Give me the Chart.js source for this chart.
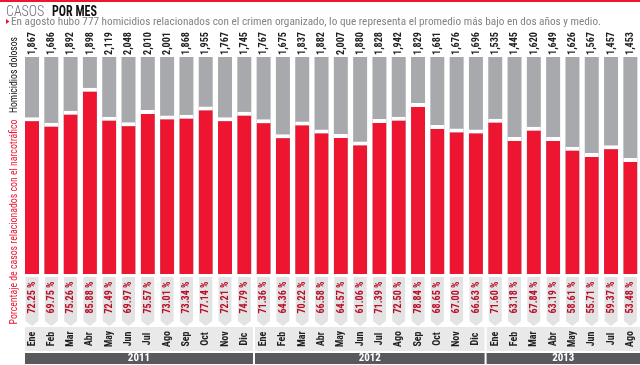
<!DOCTYPE html>
<html>
<head>
<meta charset="utf-8">
<script src="https://cdn.jsdelivr.net/npm/chart.js@4/dist/chart.umd.min.js"></script>
<style>
html,body{margin:0;padding:0;background:#fff;}
canvas{display:block;}
</style>
</head>
<body>
<canvas id="c" width="640" height="365"></canvas>
<script>
const months = ['Ene','Feb','Mar','Abr','May','Jun','Jul','Ago','Sep','Oct','Nov','Dic',
                'Ene','Feb','Mar','Abr','May','Jun','Jul','Ago','Sep','Oct','Nov','Dic',
                'Ene','Feb','Mar','Abr','May','Jun','Jul','Ago'];
const years = ['2011','2012','2013'];
const monthsPerYear = [12,12,8];
const homicidios = [1867,1686,1892,1898,2119,2048,2010,2001,1868,1955,1767,1745,
                    1767,1675,1837,1882,2007,1880,1828,1942,1829,1681,1676,1696,
                    1535,1445,1620,1649,1626,1567,1457,1453];
const porcentaje = [72.25,69.75,75.26,85.88,72.49,69.97,75.57,73.01,73.34,77.14,72.21,74.79,
                    71.36,64.36,70.22,66.58,64.57,61.06,71.39,72.50,78.84,68.65,67.00,66.63,
                    71.60,63.18,67.84,63.19,58.61,55.71,59.37,53.48];
const total = months.map(() => 100);

const FONT = '"Liberation Sans Narrow","Roboto Condensed",Roboto,"Liberation Sans",sans-serif';
const RED = '#ee1531';
const GRAY = '#a7a9ac';

function rotText(ctx, txt, x, y, align, maxW) {
  ctx.save();
  ctx.translate(x, y);
  ctx.rotate(-Math.PI/2);
  ctx.textAlign = align;
  ctx.textBaseline = 'middle';
  ctx.fillText(txt, 0, 0, maxW);
  ctx.restore();
}

const deco = {
  id: 'deco',
  afterDraw(chart) {
    const ctx = chart.ctx;
    const xs = chart.scales.x;
    const meta = chart.getDatasetMeta(0);
    const bw = meta.data[0].width;
    const W = chart.width;
    ctx.save();
    // top line
    ctx.fillStyle = RED;
    ctx.fillRect(0, 0, W, 2);
    // title
    ctx.textBaseline = 'alphabetic';
    ctx.textAlign = 'left';
    ctx.fillStyle = '#6d6e71';
    ctx.font = '300 14px ' + FONT;
    ctx.fillText('CASOS', 6, 16, 44);
    ctx.fillStyle = '#111';
    ctx.font = 'bold 14px ' + FONT;
    ctx.fillText('POR MES', 52, 16, 45);
    // subtitle
    ctx.fillStyle = RED;
    ctx.beginPath();
    ctx.moveTo(6, 19); ctx.lineTo(9.5, 21.5); ctx.lineTo(6, 24); ctx.closePath(); ctx.fill();
    ctx.fillStyle = '#808285';
    ctx.font = '11.3px ' + FONT;
    ctx.fillText('En agosto hubo 777 homicidios relacionados con el crimen organizado, lo que representa el promedio más bajo en dos años y medio.', 11, 25, 590);
    // left titles
    ctx.fillStyle = '#111';
    ctx.font = '11.5px ' + FONT;
    rotText(ctx, 'Homicidios dolosos', 14, 75, 'center', 76);
    ctx.fillStyle = RED;
    rotText(ctx, 'Porcentaje de casos relacionados con el narcotráfico', 14, 222, 'center', 205);

    // per-bar labels
    months.forEach((m, i) => {
      const cx = xs.getPixelForValue(i);
      // top total
      ctx.fillStyle = '#231f20';
      ctx.font = 'bold 11px ' + FONT;
      rotText(ctx, homicidios[i].toLocaleString('en-US'), cx, 55, 'left', 23);
      // tag
      const l = cx - bw/2 + 0.5, r = cx + bw/2 - 0.5;
      ctx.fillStyle = '#e3e3e3';
      ctx.beginPath();
      ctx.moveTo(l, 277); ctx.lineTo(r, 277); ctx.lineTo(r, 321);
      ctx.lineTo(cx, 326); ctx.lineTo(l, 321); ctx.closePath(); ctx.fill();
      ctx.fillStyle = '#b8102a';
      ctx.font = 'bold 11px ' + FONT;
      rotText(ctx, porcentaje[i].toFixed(2) + ' %', cx, 297.5, 'center', 32);
    });

    // month band & year band
    let start = 0;
    const left0 = xs.getPixelForValue(0) - bw/2;
    years.forEach((y, k) => {
      const n = monthsPerYear[k];
      const end = start + n - 1;
      const x0 = k === 0 ? left0 : (xs.getPixelForValue(start - 1) + xs.getPixelForValue(start)) / 2 + 1;
      const x1 = k === years.length - 1 ? W : (xs.getPixelForValue(end) + xs.getPixelForValue(end + 1)) / 2 - 1;
      ctx.fillStyle = '#e9e9e9';
      ctx.fillRect(x0, 327, x1 - x0, 24);
      ctx.fillStyle = '#58595b';
      ctx.fillRect(x0, 353, x1 - x0, 11);
      ctx.fillStyle = '#fff';
      ctx.font = 'bold 11px ' + FONT;
      ctx.textAlign = 'center';
      ctx.textBaseline = 'middle';
      ctx.fillText(y, (x0 + x1) / 2, 358.5);
      start += n;
    });
    months.forEach((m, i) => {
      const cx = xs.getPixelForValue(i);
      ctx.fillStyle = '#231f20';
      ctx.font = 'bold 10px ' + FONT;
      rotText(ctx, m, cx, 339, 'center', 16);
    });
    ctx.restore();
  }
};

new Chart(document.getElementById('c'), {
  type: 'bar',
  data: {
    labels: months,
    datasets: [
      {
        data: porcentaje,
        backgroundColor: RED,
        borderColor: '#ffffff',
        borderWidth: {top: 4, left: 0, right: 0, bottom: 0},
        borderSkipped: false,
        grouped: false,
        categoryPercentage: 1,
        barPercentage: 0.725
      },
      {
        data: total,
        backgroundColor: GRAY,
        borderWidth: 0,
        grouped: false,
        categoryPercentage: 1,
        barPercentage: 0.725
      }
    ]
  },
  options: {
    responsive: false,
    animation: false,
    devicePixelRatio: 1,
    layout: {padding: {left: 22.35, right: 0, top: 57, bottom: 91}},
    plugins: {legend: {display: false}, tooltip: {enabled: false}},
    scales: {
      x: {display: false},
      y: {display: false, min: 0, max: 100}
    }
  },
  plugins: [deco]
});
</script>
</body>
</html>
